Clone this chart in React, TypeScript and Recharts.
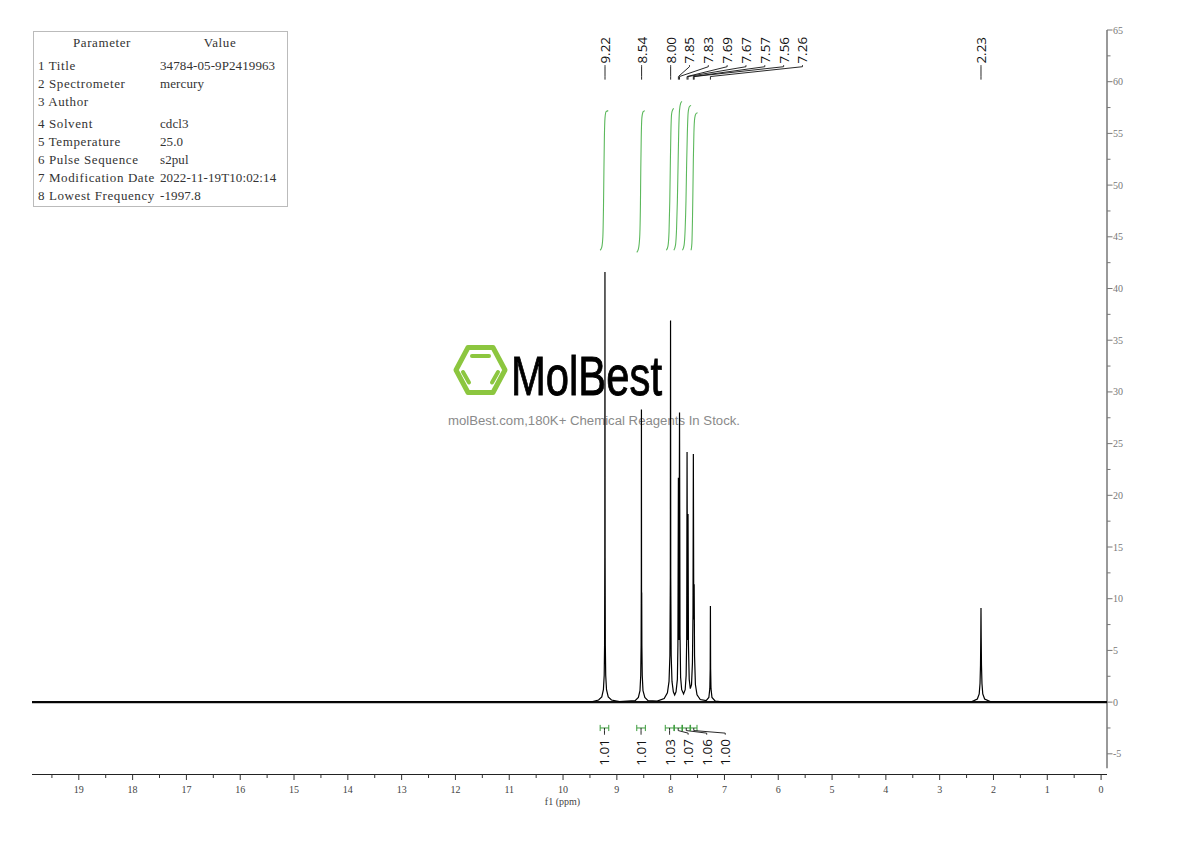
import React from 'react';
import { ComposedChart, Line, XAxis, YAxis, ReferenceLine, Scatter } from 'recharts';

// 1H NMR trace, [ppm, intensity]
const spectrum: [number, number][] = [
  [19.87, 0],
  [9.45, 0.05], [9.34, 0.2], [9.28, 0.5], [9.25, 1.2], [9.235, 2.6], [9.228, 5.5], [9.224, 14],
  [9.221, 41.6],
  [9.218, 14], [9.214, 5.5], [9.207, 2.6], [9.192, 1.2], [9.16, 0.5], [9.1, 0.2], [8.95, 0.05],
  [8.66, 0.15], [8.6, 0.45], [8.57, 1.1], [8.556, 2.6], [8.549, 5.5], [8.545, 12],
  [8.543, 28.3], [8.541, 9.5], [8.538, 10.6],
  [8.535, 5.5], [8.528, 2.6], [8.514, 1.1], [8.48, 0.45], [8.42, 0.15], [8.25, 0.1],
  [8.12, 0.35], [8.06, 0.9], [8.03, 2], [8.014, 4.5], [8.006, 12],
  [8.002, 36.9],
  [7.998, 12], [7.99, 4.5], [7.975, 2], [7.95, 1.0], [7.925, 0.7], [7.9, 1.0],
  [7.875, 2.2], [7.865, 5.5], [7.856, 21.7], [7.847, 6], [7.835, 28.0], [7.826, 6.5],
  [7.815, 2.4], [7.795, 1.2], [7.76, 0.8], [7.73, 1.2],
  [7.712, 2.6], [7.702, 6], [7.695, 24.2], [7.686, 6], [7.677, 18.2], [7.669, 5.5],
  [7.655, 2.2], [7.635, 1.3], [7.612, 1.7],
  [7.595, 3.8], [7.585, 8.5], [7.578, 24.0], [7.57, 8], [7.563, 11.4], [7.556, 4.5],
  [7.54, 1.7], [7.51, 0.7], [7.45, 0.25], [7.34, 0.15],
  [7.29, 0.45], [7.272, 1.3], [7.265, 3.2], [7.261, 9.3], [7.257, 3.2], [7.25, 1.3], [7.232, 0.45],
  [7.17, 0.1], [7.0, 0],
  [2.4, 0.05], [2.3, 0.3], [2.265, 0.8], [2.25, 1.8], [2.241, 3.6], [2.236, 6.2],
  [2.232, 9.1],
  [2.228, 6.2], [2.223, 3.6], [2.214, 1.8], [2.199, 0.8], [2.164, 0.3], [2.06, 0.05],
  [-0.11, 0],
];

const peakPpm = [9.22, 8.54, 8.0, 7.856, 7.835, 7.695, 7.677, 7.578, 7.563, 7.261, 2.232];
const peakText = ['9.22', '8.54', '8.00', '7.85', '7.83', '7.69', '7.67', '7.57', '7.56', '7.26', '2.23'];

const integralFrom = [9.31, 8.63, 8.1, 7.93, 7.78, 7.63];
const integralTo = [9.15, 8.47, 7.94, 7.79, 7.64, 7.51];
const integralText = ['1.01', '1.01', '1.03', '1.07', '1.06', '1.00'];

// running integral curves (green, top)
const integ1: [number, number][] = [[9.31, 43.7], [9.28, 44.0], [9.26, 45.0], [9.248, 48], [9.24, 51.5], [9.232, 54.5], [9.22, 56.5], [9.2, 57.1], [9.16, 57.2]];
const integ2: [number, number][] = [[8.63, 43.5], [8.6, 43.8], [8.575, 45], [8.562, 48], [8.555, 51.5], [8.547, 54.5], [8.535, 56.5], [8.51, 57.1], [8.48, 57.2]];
const integ3: [number, number][] = [[8.08, 43.7], [8.05, 44.1], [8.03, 45.5], [8.016, 48.5], [8.006, 52], [7.996, 55], [7.982, 56.9], [7.96, 57.3], [7.94, 57.4]];
const integ4: [number, number][] = [[7.94, 43.7], [7.91, 44.2], [7.89, 45.8], [7.875, 48.5], [7.862, 52], [7.85, 55.2], [7.836, 57.2], [7.815, 57.9], [7.79, 58.1]];
const integ5: [number, number][] = [[7.78, 43.7], [7.75, 44.2], [7.73, 45.8], [7.715, 48.5], [7.703, 52], [7.69, 55], [7.675, 57], [7.65, 57.6], [7.62, 57.7]];
const integ6: [number, number][] = [[7.62, 43.7], [7.605, 44.4], [7.595, 46.5], [7.586, 49.5], [7.578, 52.5], [7.568, 55], [7.552, 56.5], [7.53, 56.9], [7.5, 57.0]];
const integralCurves = [integ1, integ2, integ3, integ4, integ5, integ6];

const xMajor = [0, 1, 2, 3, 4, 5, 6, 7, 8, 9, 10, 11, 12, 13, 14, 15, 16, 17, 18, 19];
const yMajor = [-5, 0, 5, 10, 15, 20, 25, 30, 35, 40, 45, 50, 55, 60, 65];

const paramNames = ['1 Title', '2 Spectrometer', '3 Author', '4 Solvent', '5 Temperature', '6 Pulse Sequence', '7 Modification Date', '8 Lowest Frequency'];
const paramValues = ['34784-05-9P2419963', 'mercury', '', 'cdcl3', '25.0', 's2pul', '2022-11-19T10:02:14', '-1997.8'];

const xTicks = xMajor.flatMap((v) => [v, v + 0.5]);
const yTicks = yMajor.flatMap((v) => (v < 65 ? [v, v + 2.5] : [v]));

const pts = (arr: [number, number][]) => arr.map(([x, y]) => ({ x, y }));

// push labels apart so they don't overlap (like the NMR software does)
function spread(centers: number[], gap: number) {
  const out: number[] = [];
  centers.forEach((c, i) => out.push(i === 0 ? c : Math.min(c, out[i - 1] - gap)));
  return out;
}

const peakLabelPpm = spread(peakPpm, 0.35);
const integralCenters = integralFrom.map((f, i) => (f + integralTo[i]) / 2);
const integralLabelPpm = spread(integralCenters, 0.345);

const PEAK_TXT = 61.75, PEAK_K1 = 61.45, PEAK_K2 = 60.5, PEAK_END = 60.2;
const BR_Y = -2.5, BR_K1 = -2.75, BR_K2 = -3.0, BR_END = -3.15, INT_TXT = -6.15;

const peakLabelData = peakText.map((t, i) => ({ x: peakLabelPpm[i], y: PEAK_TXT, text: t }));
const integralLabelData = integralText.map((t, i) => ({ x: integralLabelPpm[i], y: INT_TXT, text: t }));

const XTick = (props: any) => {
  const { x, y, payload } = props;
  const major = Math.abs(payload.value - Math.round(payload.value)) < 1e-6;
  return (
    <g>
      <line x1={x} x2={x} y1={y} y2={y + (major ? 5.5 : 3.5)} stroke="#333" strokeWidth={1} />
      {major && (
        <text x={x} y={y + 18} textAnchor="middle" fontSize={10} fontFamily="'Liberation Serif', serif" fill="#444">
          {payload.value}
        </text>
      )}
    </g>
  );
};

const YTick = (props: any) => {
  const { x, y, payload } = props;
  const major = payload.value % 5 === 0;
  return (
    <g>
      <line x1={x} x2={x + (major ? 5.5 : 3.5)} y1={y} y2={y} stroke="#777" strokeWidth={1} />
      {major && (
        <text x={x + 6} y={y} dominantBaseline="central" fontSize={10} fontFamily="'Liberation Serif', serif" fill="#777">
          {payload.value}
        </text>
      )}
    </g>
  );
};

const rotatedText = (size: number) => (p: any) => (
  <text
    x={p.cx}
    y={p.cy}
    transform={`rotate(-90 ${p.cx} ${p.cy})`}
    dominantBaseline="central"
    fontSize={size}
    fontFamily="'Open Sans', sans-serif"
    fill="#111"
  >
    {p.payload.text}
  </text>
);

const seg = (x1: number, y1: number, x2: number, y2: number) => [
  { x: x1, y: y1 },
  { x: x2, y: y2 },
];

function Backdrop() {
  const rowY = [65, 83, 101, 123, 141, 159, 177, 195];
  const font = "'Liberation Serif', serif";
  return (
    <svg width={1190} height={841} style={{ position: 'absolute', left: 0, top: 0 }}>
      <rect x={33.5} y={31.5} width={254} height={175} fill="#fff" stroke="#bbb" />
      <text x={102} y={47} textAnchor="middle" fontSize={13} fontFamily={font} fill="#333" letterSpacing={0.6}>Parameter</text>
      <text x={220} y={47} textAnchor="middle" fontSize={13} fontFamily={font} fill="#333" letterSpacing={0.6}>Value</text>
      {paramNames.map((n, i) => (
        <g key={n}>
          <text x={38} y={rowY[i] + 4.5} fontSize={13} fontFamily={font} fill="#333" letterSpacing={0.6}>{n}</text>
          <text x={160} y={rowY[i] + 4.5} fontSize={13} fontFamily={font} fill="#333" letterSpacing={0.1}>{paramValues[i]}</text>
        </g>
      ))}
      {/* watermark */}
      <g fill="none" stroke="#8cc63f" strokeLinecap="round" strokeLinejoin="round">
        <polygon points="456,370 468,347.5 493,347.5 505,370 493,392.5 468,392.5" strokeWidth={5} />
        <line x1={472} y1={356} x2={489} y2={356} strokeWidth={4} />
        <line x1={463} y1={372} x2={469} y2={382.5} strokeWidth={4} />
        <line x1={498} y1={372} x2={492} y2={382.5} strokeWidth={4} />
      </g>
      <text x={511} y={395} fontSize={56} fontFamily="'Liberation Sans', sans-serif" textLength={151} lengthAdjust="spacingAndGlyphs" fill="#000" stroke="#000" strokeWidth={0.9}>
        MolBest
      </text>
      <text x={448} y={425} fontSize={12.5} fontFamily="'Liberation Sans', sans-serif" textLength={292} lengthAdjust="spacingAndGlyphs" fill="#8a8a8a">
        molBest.com,180K+ Chemical Reagents In Stock.
      </text>
    </svg>
  );
}

export default function App() {
  return (
    <div style={{ position: 'absolute', left: 0, top: 0, width: 1190, height: 841, background: '#fff' }}>
      <Backdrop />
      <div style={{ position: 'absolute', left: 0, top: 0 }}>
        <ComposedChart width={1190} height={841} margin={{ top: 30, right: 43, left: 32, bottom: 30.5 }}>
          <XAxis
            dataKey="x"
            type="number"
            domain={[-0.11, 19.87]}
            reversed
            allowDataOverflow
            ticks={xTicks}
            interval={0}
            tick={<XTick />}
            tickLine={false}
            tickSize={0}
            tickMargin={0}
            height={36}
            axisLine={{ stroke: '#222', strokeWidth: 1 }}
            label={{ value: 'f1 (ppm)', position: 'insideBottom', offset: 6, dx: -7, style: { fontSize: 10, fontFamily: "'Liberation Serif', serif", fill: '#444' } }}
          />
          <YAxis
            dataKey="y"
            type="number"
            orientation="right"
            domain={[-7, 65]}
            allowDataOverflow
            ticks={yTicks}
            interval={0}
            tick={<YTick />}
            tickLine={false}
            tickSize={0}
            tickMargin={0}
            axisLine={false}
            width={40}
          />
          <ReferenceLine segment={seg(-0.11, -6.4, -0.11, 65)} stroke="#777" strokeWidth={1.5} />
          <ReferenceLine y={0} stroke="#111" strokeWidth={2.2} />

          {integralCurves.map((c, i) => (
            <Line
              key={'ic' + i}
              data={pts(c)}
              dataKey="y"
              type="monotone"
              stroke="#5cb85c"
              strokeWidth={1.1}
              dot={false}
              activeDot={false}
              isAnimationActive={false}
            />
          ))}

          <Line
            data={pts(spectrum)}
            dataKey="y"
            type="linear"
            stroke="#000"
            strokeWidth={1.2}
            dot={false}
            activeDot={false}
            isAnimationActive={false}
          />

          {peakPpm.map((p, i) => {
            const L = peakLabelPpm[i];
            return (
              <React.Fragment key={'pl' + i}>
                <ReferenceLine segment={seg(L, PEAK_TXT - 0.15, L, PEAK_K1)} stroke="#111" strokeWidth={0.9} />
                <ReferenceLine segment={seg(L, PEAK_K1, p, PEAK_K2)} stroke="#111" strokeWidth={0.9} />
                <ReferenceLine segment={seg(p, PEAK_K2, p, PEAK_END)} stroke="#111" strokeWidth={0.9} />
              </React.Fragment>
            );
          })}

          {integralFrom.map((f, i) => {
            const t = integralTo[i];
            const c = integralCenters[i];
            const L = integralLabelPpm[i];
            return (
              <React.Fragment key={'ib' + i}>
                <ReferenceLine segment={seg(f, BR_Y, t, BR_Y)} stroke="#3c9c3c" strokeWidth={1} />
                <ReferenceLine segment={seg(f, BR_Y + 0.3, f, BR_Y - 0.3)} stroke="#3c9c3c" strokeWidth={1} />
                <ReferenceLine segment={seg(t, BR_Y + 0.3, t, BR_Y - 0.3)} stroke="#3c9c3c" strokeWidth={1} />
                <ReferenceLine segment={seg(c, BR_Y, c, BR_K1)} stroke="#111" strokeWidth={0.9} />
                <ReferenceLine segment={seg(c, BR_K1, L, BR_K2)} stroke="#111" strokeWidth={0.9} />
                <ReferenceLine segment={seg(L, BR_K2, L, BR_END)} stroke="#111" strokeWidth={0.9} />
              </React.Fragment>
            );
          })}

          <Scatter data={peakLabelData} dataKey="y" isAnimationActive={false} shape={rotatedText(13.5)} />
          <Scatter data={integralLabelData} dataKey="y" isAnimationActive={false} shape={rotatedText(13.5)} />
        </ComposedChart>
      </div>
    </div>
  );
}
